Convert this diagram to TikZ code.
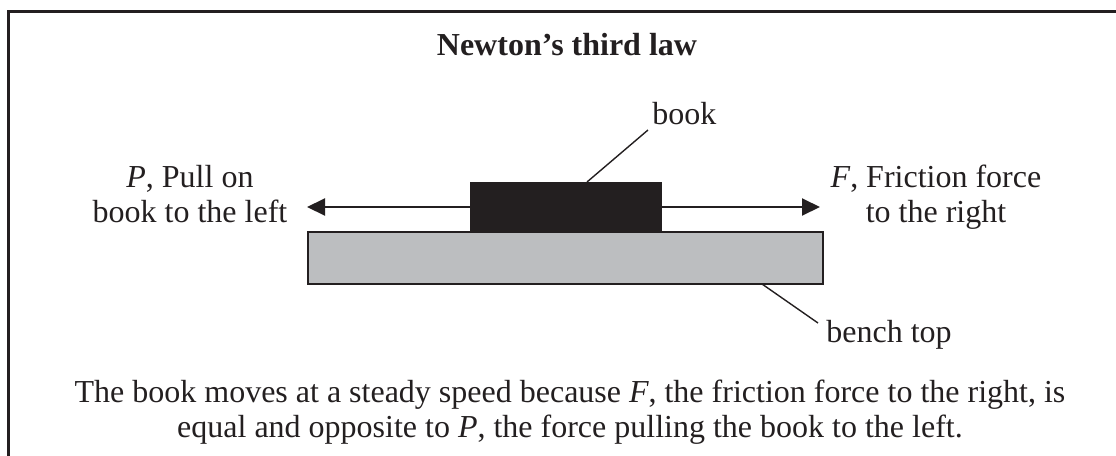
\documentclass[tikz,border=0pt]{standalone}
\usepackage{fontspec}
\setmainfont{Liberation Serif}
\usepackage{tikz}
\usetikzlibrary{arrows.meta,positioning}
\definecolor{ink}{HTML}{231F20}
\definecolor{benchgrey}{HTML}{BCBEC0}
\tikzset{
  font=\fontsize{16}{17.5}\selectfont,
  >={Triangle[length=9pt,width=8.5pt]},
  tag/.style={text=ink, align=center, inner sep=0pt},
  bookbox/.style={fill=ink, draw=none, inner sep=0pt,
    minimum width=96pt, minimum height=25pt},
  benchbox/.style={fill=benchgrey, draw=ink, line width=1pt, inner sep=0pt,
    minimum width=257.5pt, minimum height=26pt},
  force/.style={->, line width=1pt, draw=ink},
  leader/.style={line width=0.7pt, draw=ink},
  border/.style={line width=1.5pt, draw=ink}
}

\begin{document}
\begin{tikzpicture}[x=0.5pt,y=-0.5pt]
  \useasboundingbox (0,0) rectangle (1116,456);
  \draw[border] (8.5,456) |- (1116,11.5);

  \node[tag, font=\fontsize{16}{17.5}\selectfont\bfseries, anchor=base] (title) at (567,55)
    {Newton’s third law};

  % bench and book
  \node[benchbox] (bench) at (565.5,258) {};
  \node[bookbox] (book) at (566,207) {};

  % forces
  \coordinate (ptip) at (307,207);
  \coordinate (ftip) at (820,207);
  \draw[force] (book.west) -- (ptip);
  \draw[force] (book.east) -- (ftip);
  \node[tag, anchor=base] (pull) at (190,222) {\textit{P}, Pull on\\book to the left};
  \node[tag, anchor=base] (fric) at (936,222) {\textit{F}, Friction force\\to the right};

  % leaders
  \coordinate (bk) at (587,182);
  \coordinate (bkend) at (648,130);
  \node[tag, anchor=base west] (booklbl) at (652,124) {book};
  \draw[leader] (bk) -- (bkend);
  \coordinate (bt) at (762,284);
  \coordinate (btend) at (818,323);
  \node[tag, anchor=base west] (benchlbl) at (826,342) {bench top};
  \draw[leader] (bt) -- (btend);

  \node[tag, anchor=base] (note) at (570,437)
    {The book moves at a steady speed because \textit{F}, the friction force to the right, is\\
     equal and opposite to \textit{P}, the force pulling the book to the left.};
\end{tikzpicture}
\end{document}
